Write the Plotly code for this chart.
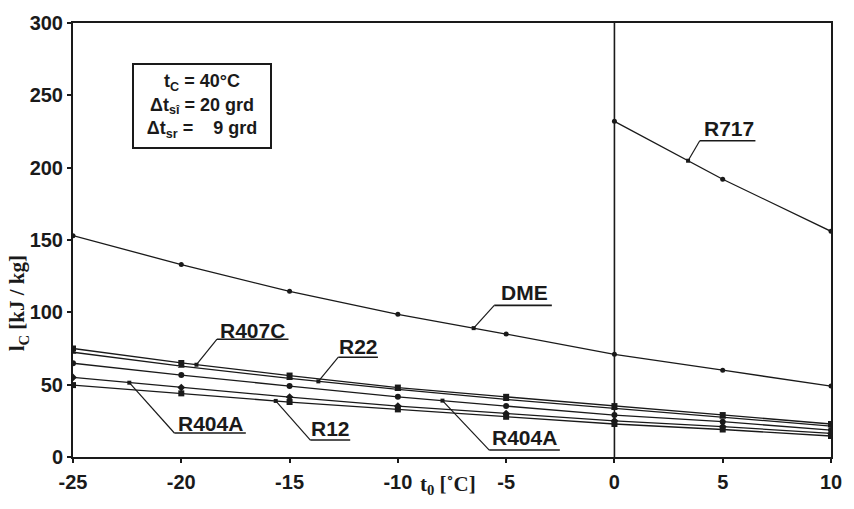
import numpy as np
import plotly.graph_objects as go

# Evaporation temperature t0 [°C]
t0 = [-25, -20, -15, -10, -5, 0, 5, 10]
t0_r717 = [0, 5, 10]

# Specific compression work l_C [kJ/kg]
lc_dme = [153, 133, 114.5, 98.6, 85, 71, 60, 49]
lc_r717 = [232, 192, 156]
lc_r407c = [75, 65, 56.3, 48, 41.6, 35.2, 29, 22.8]
lc_r22 = [72.4, 62.8, 54.3, 46.7, 39.8, 33.6, 27.4, 21.4]
lc_r404a = [64.8, 56.6, 49, 41.6, 35.2, 29, 24.4, 18.6]
lc_r404a_b = [55, 48, 41.4, 35.2, 30, 25, 21, 16.3]
lc_r12 = [49.7, 44, 38, 32.9, 27.8, 22.8, 19, 14.5]

x_ticks = [-25, -20, -15, -10, -5, 0, 5, 10]
x_tick_labels = ["-25", "-20", "-15", "-10", "-5", "0", "5", "10"]
y_ticks = [0, 50, 100, 150, 200, 250, 300]

INK = "#1a1a1a"
SANS = "Liberation Sans"
SERIF = "Liberation Serif"

series = [
    ("R717", t0_r717, lc_r717, "circle", 5),
    ("DME", t0, lc_dme, "circle", 5),
    ("R407C", t0, lc_r407c, "square", 6),
    ("R22", t0, lc_r22, "triangle-up", 6),
    ("R404A", t0, lc_r404a, "circle", 6),
    ("R404A ", t0, lc_r404a_b, "diamond", 6),
    ("R12", t0, lc_r12, "square", 6),
]

fig = go.Figure()
for name, xs, ys, sym, size in series:
    fig.add_trace(go.Scatter(
        x=xs, y=ys, name=name, mode="lines+markers",
        line=dict(color=INK, width=1.3),
        marker=dict(symbol=sym, size=size, color=INK),
        showlegend=False, hoverinfo="skip",
    ))

# Callout labels: text, series values, t0 where the leader touches the curve,
# label centre, underline extent
callouts = [
    ("R717", t0_r717, lc_r717, 3.4, 5.30, 226.9, 3.94, 6.51, 218.6),
    ("DME", t0, lc_dme, -6.5, -4.17, 113.8, -5.55, -2.89, 104.8),
    ("R407C", t0, lc_r407c, -19.3, -16.7, 87.6, -18.35, -15.05, 81.4),
    ("R22", t0, lc_r22, -13.67, -11.83, 76.6, -12.75, -10.92, 69.0),
    ("R404A", t0, lc_r404a_b, -22.4, -18.67, 23.4, -20.32, -17.02, 16.6),
    ("R12", t0, lc_r12, -15.64, -13.12, 20.0, -14.04, -12.2, 11.7),
    ("R404A", t0, lc_r404a, -7.94, -4.17, 13.8, -5.78, -2.52, 4.8),
]

shapes = []
annotations = []
px, py = [], []
for text, xs, ys, tp, tx, ty, ux0, ux1, uy in callouts:
    yp = float(np.interp(tp, xs, ys))
    px.append(tp)
    py.append(yp)
    shapes.append(dict(type="line", xref="x", yref="y", x0=ux0, x1=ux1, y0=uy, y1=uy,
                       line=dict(color=INK, width=1.6)))
    shapes.append(dict(type="line", xref="x", yref="y", x0=ux0, x1=tp, y0=uy, y1=yp,
                       line=dict(color=INK, width=1.2)))
    annotations.append(dict(x=tx, y=ty, xref="x", yref="y", text=f"<b>{text}</b>",
                            showarrow=False, font=dict(family=SANS, size=21, color=INK)))

fig.add_trace(go.Scatter(x=px, y=py, mode="markers",
                         marker=dict(symbol="square", size=4, color=INK),
                         showlegend=False, hoverinfo="skip"))

# Reference line at t0 = 0 °C
shapes.append(dict(type="line", xref="x", yref="paper", x0=0, x1=0, y0=0, y1=1,
                   line=dict(color=INK, width=1.6)))

# Operating conditions box
nb = "\u00a0"
annotations.append(dict(
    x=-19.06, y=242.8, xref="x", yref="y", showarrow=False,
    text=(f"<b>t<sub>C</sub>{nb}={nb}40°C<br>"
          f"Δt<sub>sî</sub>{nb}={nb}20{nb}grd<br>"
          f"Δt<sub>sr</sub>{nb}={nb}{nb}{nb}{nb}9{nb}grd</b>"),
    font=dict(family=SANS, size=18, color=INK), align="center",
    width=134, height=80, bordercolor=INK, borderwidth=2, borderpad=1,
    bgcolor="white",
))

# Axis titles
annotations.append(dict(x=-0.072, y=0.355, xref="paper", yref="paper", showarrow=False,
                        xanchor="center", yanchor="middle",
                        text="<b>l<sub>C</sub> [kJ / kg]</b>", textangle=-90,
                        font=dict(family=SERIF, size=21, color=INK)))
annotations.append(dict(x=0.495, y=-0.064, xref="paper", yref="paper", showarrow=False,
                        xanchor="center", yanchor="middle",
                        text="<b>t<sub>0</sub> [˚C]</b>",
                        font=dict(family=SERIF, size=21, color=INK)))

axis_common = dict(
    showline=True, linecolor=INK, linewidth=2, mirror=True,
    showgrid=False, zeroline=False, ticks="outside", ticklen=4,
    tickcolor=INK, tickwidth=1.5,
    tickfont=dict(family=SANS, size=20, color=INK, weight="bold"),
)

fig.update_layout(
    width=854, height=509,
    margin=dict(l=73, r=16, t=21, b=52),
    paper_bgcolor="white", plot_bgcolor="white",
    xaxis=dict(range=[-25, 10], tickvals=x_ticks, ticktext=x_tick_labels,
               ticklabelstandoff=2, **axis_common),
    yaxis=dict(range=[0, 300], tickvals=y_ticks, **axis_common),
    shapes=shapes, annotations=annotations,
)

fig.write_html("out.html")
